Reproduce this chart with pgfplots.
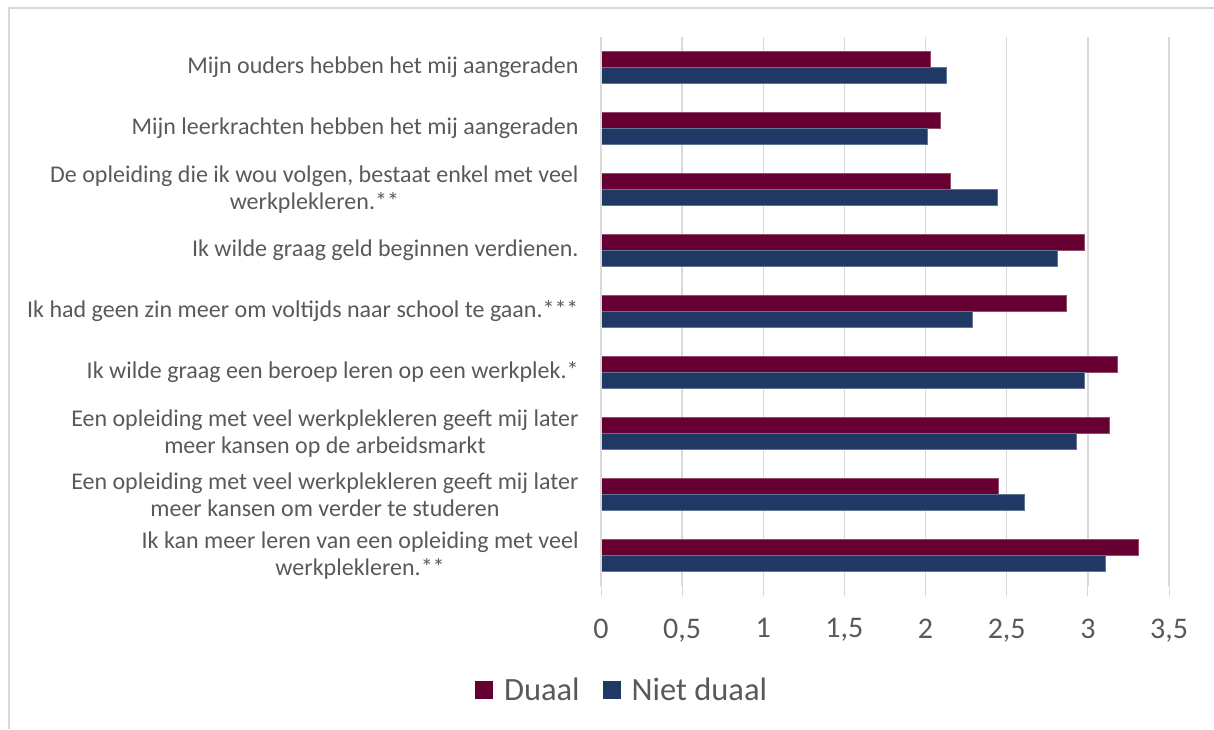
\documentclass[border=0pt]{standalone}
\usepackage{pgfplots}
\pgfplotsset{compat=1.18}
\usepackage{fontspec}
\setmainfont{Carlito}
\definecolor{duaal}{HTML}{660033}
\definecolor{niet}{HTML}{1F3864}
\definecolor{txt}{HTML}{595959}
\definecolor{grd}{HTML}{D9D9D9}
\begin{document}
\begin{tikzpicture}[x=1pt,y=1pt]
\useasboundingbox (0,0) rectangle (1214,729);
\draw[grd, line width=2pt] (9,0) -- (9,721) -- (1214,721);
\begin{axis}[
  at={(601pt,143pt)}, anchor=south west,
  scale only axis, width=568pt, height=549pt,
  xbar, bar width=16pt,
  xmin=0, xmax=3.5,
  ymin=-0.5, ymax=8.5, y dir=reverse,
  xtick={0,0.5,...,3.5},
  xticklabels={0,{0,5},1,{1,5},2,{2,5},3,{3,5}},
  ytick={0,...,8},
  yticklabels={
    Mijn ouders hebben het mij aangeraden,
    Mijn leerkrachten hebben het mij aangeraden,
    {De opleiding die ik wou volgen, bestaat enkel met veel\\werkplekleren.**},
    Ik wilde graag geld beginnen verdienen.,
    Ik had geen zin meer om voltijds naar school te gaan.***,
    Ik wilde graag een beroep leren op een werkplek.*,
    {Een opleiding met veel werkplekleren geeft mij later\\meer kansen op de arbeidsmarkt},
    {Een opleiding met veel werkplekleren geeft mij later\\meer kansen om verder te studeren},
    {Ik kan meer leren van een opleiding met veel\\werkplekleren.**}},
  yticklabel style={align=center, font=\fontsize{24}{26.5}\selectfont, text=txt, xshift=-9pt},
  xticklabel style={font=\fontsize{30}{36}\selectfont, text=txt, yshift=-19pt},
  major y tick style={draw=none},
  major x tick style={draw=grd, line width=1pt},
  tick align=outside, major tick length=10pt,
  xmajorgrids, grid style={draw=grd, line width=1.5pt},
  axis line style={draw=none},
  axis x line*=bottom,
  axis y line*=left,
  legend style={at={(0.045,-0.19)}, anchor=center, draw=none, legend columns=2,
    font=\fontsize{32.5}{38}\selectfont, text=txt,
    /tikz/every even column/.append style={column sep=12pt},
    nodes={inner xsep=11pt}},
  legend image code/.code={\fill[#1,draw=none] (0pt,-9pt) rectangle (18pt,9pt);},
]
\addplot[fill=duaal, draw=duaal!70!white, line width=0.6pt, bar shift=8pt] coordinates {
 (2.03,0) (2.09,1) (2.15,2) (2.98,3) (2.87,4) (3.18,5) (3.135,6) (2.45,7) (3.31,8)};
\addplot[fill=niet, draw=niet!70!white, line width=0.6pt, bar shift=-8pt] coordinates {
 (2.13,0) (2.01,1) (2.44,2) (2.81,3) (2.29,4) (2.975,5) (2.93,6) (2.61,7) (3.11,8)};
\legend{Duaal, Niet duaal}
\draw[grd, line width=1.5pt] (axis cs:0,-0.5) -- (axis cs:0,8.5);
\end{axis}
\end{tikzpicture}
\end{document}
